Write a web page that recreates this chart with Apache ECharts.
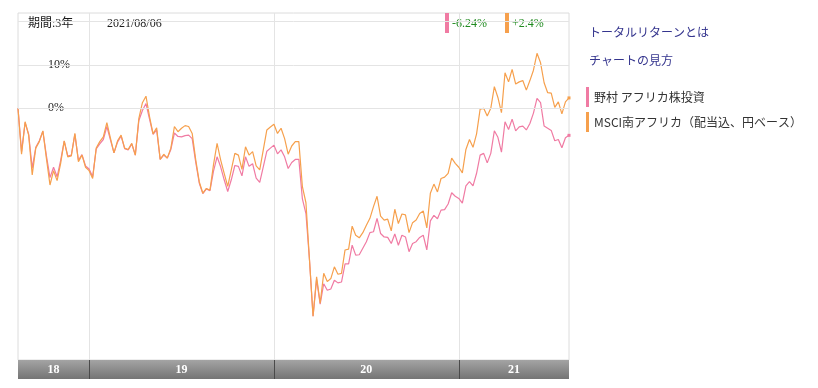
<!DOCTYPE html>
<html><head><meta charset="utf-8">
<script src="https://cdn.jsdelivr.net/npm/echarts@6/dist/echarts.min.js"></script>
<style>html,body{margin:0;padding:0;background:#fff}#c{width:818px;height:388px}</style>
</head><body><div id="c"></div><script>
const dates = [
'2018/08/17','2018/08/24','2018/08/31','2018/09/07','2018/09/14','2018/09/21','2018/09/28','2018/10/05','2018/10/12','2018/10/19',
'2018/10/26','2018/11/02','2018/11/09','2018/11/16','2018/11/23','2018/11/30','2018/12/07','2018/12/14','2018/12/21','2018/12/28',
'2019/01/04','2019/01/11','2019/01/18','2019/01/25','2019/02/01','2019/02/08','2019/02/15','2019/02/22','2019/03/01','2019/03/08',
'2019/03/15','2019/03/22','2019/03/29','2019/04/05','2019/04/12','2019/04/19','2019/04/26','2019/05/03','2019/05/10','2019/05/17',
'2019/05/24','2019/05/31','2019/06/07','2019/06/14','2019/06/21','2019/06/28','2019/07/05','2019/07/12','2019/07/19','2019/07/26',
'2019/08/02','2019/08/09','2019/08/16','2019/08/23','2019/08/30','2019/09/06','2019/09/13','2019/09/20','2019/09/27','2019/10/04',
'2019/10/11','2019/10/18','2019/10/25','2019/11/01','2019/11/08','2019/11/15','2019/11/22','2019/11/29','2019/12/06','2019/12/13',
'2019/12/20','2019/12/27','2020/01/03','2020/01/10','2020/01/17','2020/01/24','2020/01/31','2020/02/07','2020/02/14','2020/02/21',
'2020/02/28','2020/03/06','2020/03/13','2020/03/20','2020/03/27','2020/04/03','2020/04/10','2020/04/17','2020/04/24','2020/05/01',
'2020/05/08','2020/05/15','2020/05/22','2020/05/29','2020/06/05','2020/06/12','2020/06/19','2020/06/26','2020/07/03','2020/07/10',
'2020/07/17','2020/07/24','2020/07/31','2020/08/07','2020/08/14','2020/08/21','2020/08/28','2020/09/04','2020/09/11','2020/09/18',
'2020/09/25','2020/10/02','2020/10/09','2020/10/16','2020/10/23','2020/10/30','2020/11/06','2020/11/13','2020/11/20','2020/11/27',
'2020/12/04','2020/12/11','2020/12/18','2020/12/25','2021/01/01','2021/01/08','2021/01/15','2021/01/22','2021/01/29','2021/02/05',
'2021/02/12','2021/02/19','2021/02/26','2021/03/05','2021/03/12','2021/03/19','2021/03/26','2021/04/02','2021/04/09','2021/04/16',
'2021/04/23','2021/04/30','2021/05/07','2021/05/14','2021/05/21','2021/05/28','2021/06/04','2021/06/11','2021/06/18','2021/06/25',
'2021/07/02','2021/07/09','2021/07/16','2021/07/23','2021/07/30','2021/08/06'];

const fundName = '野村 アフリカ株投資';
const indexName = 'MSCI南アフリカ（配当込、円ベース）';

// cumulative total return (%), weekly
const fundValues = [
0,-10.0,-3.3,-6.0,-13.8,-9.0,-7.5,-5.3,-11.0,-16.0,
-13.6,-15.8,-12.0,-7.6,-11.0,-10.8,-6.0,-12.0,-10.7,-13.3,
-14.0,-15.8,-9.4,-8.2,-7.2,-4.2,-7.3,-10.3,-7.8,-6.4,
-9.3,-9.6,-8.2,-10.8,-2.8,-0.5,1.1,-2.5,-6.0,-5.0,
-11.8,-10.8,-11.5,-9.5,-5.7,-6.5,-6.6,-6.3,-6.2,-7.0,
-12.5,-17.3,-19.7,-18.6,-19.0,-14.5,-11.2,-13.5,-16.5,-19.2,
-16.5,-13.2,-13.4,-15.6,-11.2,-13.4,-12.8,-16.1,-17.1,-13.5,
-9.9,-9.2,-8.5,-10.5,-9.6,-11.2,-13.9,-12.5,-11.8,-11.8,
-20.9,-24.3,-35.0,-48.0,-39.5,-45.2,-40.5,-42.0,-41.7,-39.7,
-40.3,-40.1,-35.9,-35.9,-31.6,-33.9,-33.8,-32.3,-30.8,-28.7,
-28.5,-25.4,-28.9,-29.7,-29.8,-31.2,-29.0,-31.6,-29.3,-29.7,
-33.1,-31.2,-30.8,-29.8,-29.3,-32.7,-26.0,-24.7,-25.5,-23.5,
-23.4,-22.1,-19.5,-20.3,-20.8,-21.9,-17.9,-16.9,-17.9,-15.0,
-10.8,-10.4,-12.6,-10.4,-5.2,-6.7,-10.1,-3.1,-4.9,-2.5,
-5.2,-4.3,-4.1,-5.0,-3.5,-1.1,2.3,1.3,-4.1,-4.6,
-5.1,-7.5,-7.2,-9.1,-6.8,-6.24];

const indexValues = [
0,-10.6,-3.1,-6.2,-15.4,-9.2,-7.7,-5.2,-11.6,-17.7,
-14.4,-16.7,-12.7,-7.5,-11.2,-11.0,-5.8,-12.3,-10.8,-13.6,
-14.4,-16.2,-9.2,-7.7,-6.6,-3.3,-6.9,-10.3,-7.5,-6.2,
-9.2,-9.5,-8.1,-10.8,-2.3,1.3,2.8,-1.9,-5.9,-4.5,
-11.8,-10.6,-11.5,-9.2,-4.2,-5.4,-4.6,-4.0,-4.2,-5.8,
-11.9,-17.0,-19.6,-18.5,-18.9,-13.0,-8.1,-11.9,-15.0,-18.0,
-14.2,-10.4,-10.8,-14.1,-8.9,-10.8,-10.0,-13.3,-14.2,-9.6,
-5.0,-4.3,-3.7,-5.8,-4.6,-7.0,-10.6,-8.7,-7.7,-7.7,
-18.1,-21.8,-35.0,-48.0,-38.9,-45.0,-38.1,-40.0,-39.3,-36.6,
-38.3,-38.1,-32.7,-32.5,-27.2,-29.3,-29.9,-28.7,-27.0,-25.4,
-22.7,-20.3,-24.9,-25.8,-25.6,-28.3,-23.3,-26.6,-24.4,-24.6,
-28.7,-26.4,-25.8,-24.3,-23.7,-27.6,-19.6,-17.5,-19.3,-16.2,
-15.9,-15.0,-11.5,-12.7,-13.6,-14.9,-9.5,-7.2,-9.0,-5.9,
-0.2,0.0,-1.8,0.0,5.0,2.5,-1.0,8.2,6.1,9.0,
5.6,6.1,6.4,4.2,6.4,8.8,12.7,10.5,5.9,3.6,
3.5,0.2,1.5,-1.3,1.5,2.4];

const yLabelValues = [0, 10];
const yGridValues = [0, 10, 20];
const periodLabel = '期間:3年';
const linkLabels = ['トータルリターンとは', 'チャートの見方'];

const fundColor = '#f07ba3';
const indexColor = '#f6a04d';
const serif = "'Liberation Serif','Noto Sans CJK JP',serif";
const sans = "'Noto Sans CJK JP','Noto Sans',sans-serif";

const yearStartIdx = dates.map((d, i) => (i > 0 && d.slice(0, 4) !== dates[i - 1].slice(0, 4)) ? i : -1).filter(i => i >= 0);
const segBounds = [0, ...yearStartIdx, dates.length - 1];
const yearSegments = [];
for (let k = 0; k < segBounds.length - 1; k++) {
  yearSegments.push([{ xAxis: dates[segBounds[k]], name: dates[segBounds[k]].slice(2, 4) }, { xAxis: dates[segBounds[k + 1]] }]);
}
const fmt = v => (v > 0 ? '+' : '') + v + '%';
const lastFund = fundValues[fundValues.length - 1];
const lastIndex = indexValues[indexValues.length - 1];
const lastDate = dates[dates.length - 1];

function withEndMark(arr) {
  return arr.map((v, i) => i === arr.length - 1 ? { value: v, symbol: 'rect', symbolSize: 3 } : v);
}

const chart = echarts.init(document.getElementById('c'), null, { renderer: 'canvas' });
chart.setOption({
  animation: false,
  backgroundColor: '#ffffff',
  grid: [
    { left: 18, right: 249, top: 13, bottom: 28, show: true, borderColor: '#dcdcdc', borderWidth: 1, backgroundColor: '#fff' },
    { left: 18, right: 249, top: 360, height: 19, show: true, borderWidth: 0,
      backgroundColor: { type: 'linear', x: 0, y: 0, x2: 0, y2: 1, colorStops: [{ offset: 0, color: '#a4a4a4' }, { offset: 1, color: '#747474' }] } }
  ],
  xAxis: [
    { type: 'category', gridIndex: 0, data: dates, boundaryGap: false,
      axisLine: { show: false }, axisTick: { show: false }, axisLabel: { show: false },
      splitLine: { show: true, interval: (i) => yearStartIdx.indexOf(i) >= 0, lineStyle: { color: '#e4e4e4', width: 1 } } },
    { type: 'category', gridIndex: 1, data: dates, boundaryGap: false,
      axisLine: { show: false }, axisTick: { show: false }, axisLabel: { show: false },
      splitLine: { show: true, interval: (i) => yearStartIdx.indexOf(i) >= 0, lineStyle: { color: '#4a4a4a', width: 1 } } }
  ],
  yAxis: [
    { type: 'value', gridIndex: 0, min: -58.1, max: 22,
      axisLine: { show: false }, axisTick: { show: false }, splitLine: { show: false },
      axisLabel: { inside: true, margin: 30, customValues: yLabelValues, formatter: '{value}%', color: '#1a1a1a', fontFamily: serif, fontSize: 12 } },
    { type: 'value', gridIndex: 1, min: 0, max: 1, show: false }
  ],
  legend: {
    orient: 'vertical', left: 586, top: 87, itemWidth: 3, itemHeight: 20, itemGap: 5,
    icon: 'rect', selectedMode: false, padding: 0,
    data: [fundName, indexName],
    textStyle: { fontSize: 12, color: '#333', fontFamily: sans }
  },
  series: [
    { type: 'line', name: '_grid', xAxisIndex: 0, yAxisIndex: 0, data: [], z: 1, silent: true,
      markLine: { silent: true, symbol: ['none', 'none'], label: { show: false },
        lineStyle: { color: '#e4e4e4', width: 1, type: 'solid' },
        data: yGridValues.map(v => ({ yAxis: v })) } },
    { type: 'line', name: fundName, xAxisIndex: 0, yAxisIndex: 0, data: withEndMark(fundValues),
      symbol: 'none', showSymbol: true, showAllSymbol: true, color: fundColor,
      lineStyle: { color: fundColor, width: 1.2 }, itemStyle: { color: fundColor }, z: 3 },
    { type: 'line', name: indexName, xAxisIndex: 0, yAxisIndex: 0, data: withEndMark(indexValues),
      symbol: 'none', showSymbol: true, showAllSymbol: true, color: indexColor,
      lineStyle: { color: indexColor, width: 1.2 }, itemStyle: { color: indexColor }, z: 4 },
    { type: 'line', name: '_years', xAxisIndex: 1, yAxisIndex: 1, data: [], silent: true,
      markArea: { silent: true, itemStyle: { color: 'rgba(0,0,0,0)' },
        label: { show: true, position: 'inside', color: '#fff', fontFamily: serif, fontSize: 12, fontWeight: 'bold' },
        data: yearSegments } }
  ],
  graphic: [
    { type: 'text', x: 28, y: 24, style: { text: periodLabel, font: '12px ' + serif, fill: '#1a1a1a', verticalAlign: 'middle' } },
    { type: 'text', x: 107, y: 24, style: { text: lastDate, font: '12px ' + serif, fill: '#1a1a1a', verticalAlign: 'middle' } },
    { type: 'rect', shape: { x: 445, y: 13, width: 4, height: 20 }, style: { fill: fundColor } },
    { type: 'text', x: 452, y: 24, style: { text: fmt(lastFund), font: '12px ' + serif, fill: '#1f8a1f', verticalAlign: 'middle' } },
    { type: 'rect', shape: { x: 505, y: 13, width: 4, height: 20 }, style: { fill: indexColor } },
    { type: 'text', x: 512, y: 24, style: { text: fmt(lastIndex), font: '12px ' + serif, fill: '#1f8a1f', verticalAlign: 'middle' } },
    { type: 'text', x: 589, y: 32, style: { text: linkLabels[0], font: '12px ' + sans, fill: '#35358e', verticalAlign: 'middle' } },
    { type: 'text', x: 589, y: 60, style: { text: linkLabels[1], font: '12px ' + sans, fill: '#35358e', verticalAlign: 'middle' } }
  ]
});
</script></body></html>
